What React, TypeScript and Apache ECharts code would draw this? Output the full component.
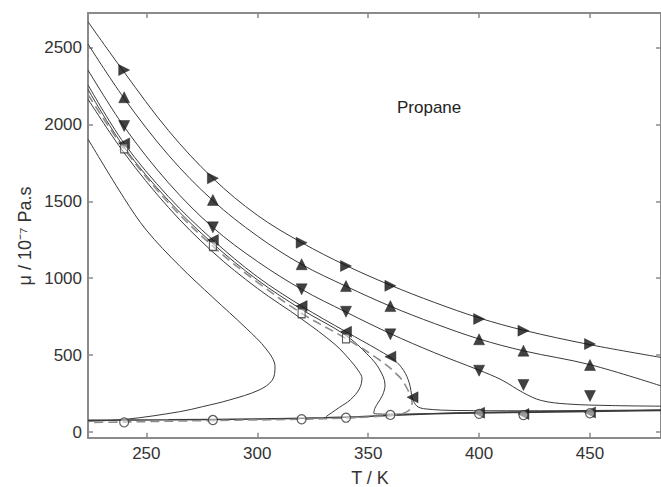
import React, { useEffect, useRef } from "react";
import * as echarts from "echarts";

// ---- marker data (T in K, viscosity in 10^-7 Pa.s) ----
const T_MARK = [240, 280, 320, 340, 360, 400, 420, 450];
const MU_RIGHT = [2354, 1650, 1231, 1080, 951, 735, 659, 572];
const MU_UP = [2177, 1509, 1091, 949, 819, 603, 529, 436];
const MU_DOWN = [1990, 1331, 928, 782, 635, 399, 306, 234];
const T_LEFT = [240, 280, 320, 340, 360, 370, 400, 420, 450];
const MU_LEFT = [1877, 1249, 819, 652, 490, 226, 125, 117, 127];
const T_SATLIQ = [240, 280, 320, 340];
const MU_SATLIQ = [1845, 1210, 772, 609];
const T_SATVAP = [240, 280, 320, 340, 360, 400, 420, 450];
const MU_SATVAP = [63, 78, 83, 93, 111, 118, 110, 122];

// ---- model curves ----
const T_A = [223.7, 240, 260, 280, 300, 320, 340, 360, 380, 400, 420, 450, 482];
const MU_A = [2668, 2340, 1960, 1650, 1410, 1232, 1083, 955, 842, 742, 662, 568, 485];
const T_B = [223.7, 240, 260, 280, 300, 320, 340, 360, 380, 400, 420, 450, 482];
const MU_B = [2523, 2170, 1800, 1505, 1275, 1090, 948, 818, 705, 605, 528, 438, 300];
const T_C = [223.7, 240, 260, 280, 300, 320, 340, 360, 380, 400, 410, 420, 428, 440, 460, 482];
const MU_C = [2354, 1985, 1620, 1330, 1110, 928, 780, 640, 515, 402, 340, 255, 205, 182, 172, 168];
const T_D = [223.7, 240, 260, 280, 300, 320, 340, 355, 362, 366, 368.5, 370, 372, 376, 390, 420, 450, 482];
const MU_D = [2257, 1877, 1530, 1249, 1010, 819, 652, 530, 465, 400, 320, 220, 168, 150, 140, 138, 140, 144];
const T_S3 = [223.7, 240, 260, 280, 300, 320, 340, 350, 355, 357.6, 356.5, 354, 353, 352.5, 360, 400, 450, 482];
const MU_S3 = [2228, 1852, 1505, 1225, 990, 797, 628, 500, 410, 306, 240, 180, 154, 122, 116, 128, 136, 142];
const T_S2 = [223.7, 240, 260, 280, 300, 320, 335, 342, 346, 347.2, 346, 342, 337, 333.6, 331];
const MU_S2 = [2165, 1815, 1460, 1170, 935, 735, 570, 465, 390, 350, 280, 210, 160, 126, 100];
const T_F = [223.7, 240, 250, 265, 280, 295, 304, 308, 306.8, 300.8, 287.4, 275.4, 265, 241, 223.7];
const MU_F = [1905, 1520, 1313, 1080, 875, 675, 540, 425, 338, 273, 208, 165, 132, 83, 70];
const T_SAT = [223.7, 240, 260, 280, 300, 320, 340, 355, 364, 368, 369.8, 369, 366, 360, 340, 320, 280, 240, 223.7];
const MU_SAT = [2195, 1842, 1490, 1208, 975, 772, 608, 470, 360, 270, 190, 150, 122, 108, 91, 83, 75, 65, 62];
const T_GAS = [223.7, 260, 300, 330, 346, 360, 380, 400, 450, 482];
const MU_GAS = [76, 79, 85, 93, 100, 108, 118, 124, 134, 140];

const X_MIN = 223.7;
const X_MAX = 482;
const Y_MIN = -37;
const Y_MAX = 2725;

const zip = (xs: number[], ys: number[]) => xs.map((x, i) => [x, ys[i]]);

const FONT = "'Liberation Sans', Arial, Helvetica, sans-serif";
const AXIS_COLOR = "#8a8a8a";
const LINE_COLOR = "#3a3a3a";

function lineSeries(name: string, xs: number[], ys: number[], extra: any = {}) {
  return {
    name,
    type: "line",
    data: zip(xs, ys),
    showSymbol: false,
    symbol: "none",
    smooth: 0.35,
    lineStyle: { color: LINE_COLOR, width: 1, ...(extra.lineStyle || {}) },
    z: 2,
    silent: true,
  };
}

function markSeries(name: string, xs: number[], ys: number[], symbol: string, rotate: number, size: any, filled = true) {
  return {
    name,
    type: "scatter",
    data: zip(xs, ys),
    symbol,
    symbolRotate: rotate,
    symbolSize: size,
    itemStyle: filled
      ? { color: "#111", borderColor: "#111", borderWidth: 0.5 }
      : { color: "rgba(255,255,255,0.6)", borderColor: "#333", borderWidth: 1.2 },
    z: 5,
    silent: true,
  };
}

export default function App() {
  const ref = useRef<HTMLDivElement>(null);
  useEffect(() => {
    document.body.style.margin = "0";
    if (!ref.current) return;
    const chart = echarts.init(ref.current, undefined, { renderer: "svg" });
    const axisCommon = {
      type: "value",
      splitLine: { show: false },
      axisLine: { show: true, onZero: false, lineStyle: { color: AXIS_COLOR, width: 2 } },
      axisTick: { show: true, inside: true, length: 5, lineStyle: { color: AXIS_COLOR, width: 1.5 } },
    };
    const xFmt = (v: number) => (Math.abs(v % 50) < 1e-6 ? String(v) : "");
    const yFmt = (v: number) => (Math.abs(v % 500) < 1e-6 ? String(v) : "");
    chart.setOption({
      animation: false,
      backgroundColor: "#ffffff",
      grid: { left: 88, top: 13, right: -3, bottom: 49.3 },
      xAxis: [
        {
          ...axisCommon,
          position: "bottom",
          min: X_MIN,
          max: X_MAX,
          axisLabel: { color: "#333", fontSize: 17, fontFamily: FONT, margin: 7, formatter: xFmt, showMinLabel: false, showMaxLabel: false },
        },
        {
          ...axisCommon,
          position: "top",
          min: X_MIN,
          max: X_MAX,
          axisLabel: { show: false },
        },
      ],
      yAxis: [
        {
          ...axisCommon,
          position: "left",
          min: Y_MIN,
          max: Y_MAX,
          axisLabel: { color: "#333", fontSize: 17, fontFamily: FONT, margin: 6, formatter: yFmt, showMinLabel: false, showMaxLabel: false },
        },
        {
          ...axisCommon,
          position: "right",
          min: Y_MIN,
          max: Y_MAX,
          axisLabel: { show: false },
        },
      ],
      graphic: [
        {
          type: "text",
          x: 397,
          y: 107,
          style: { text: "Propane", fontSize: 17, fontFamily: FONT, fill: "#222", verticalAlign: "middle", align: "left" },
        },
        {
          type: "text",
          x: 25,
          y: 236,
          rotation: Math.PI / 2,
          style: { text: "μ / 10⁻⁷ Pa.s", fontSize: 18, fontFamily: FONT, fill: "#333", align: "center", verticalAlign: "middle" },
        },
        {
          type: "text",
          x: 370,
          y: 478,
          style: { text: "T / K", fontSize: 18, fontFamily: FONT, fill: "#333", align: "center", verticalAlign: "middle" },
        },
      ],
      series: [
        lineSeries("A", T_A, MU_A),
        lineSeries("B", T_B, MU_B),
        lineSeries("C", T_C, MU_C),
        lineSeries("D", T_D, MU_D),
        lineSeries("S3", T_S3, MU_S3),
        lineSeries("S2", T_S2, MU_S2),
        lineSeries("F", T_F, MU_F),
        lineSeries("gas", T_GAS, MU_GAS, { lineStyle: { width: 1.5 } }),
        {
          ...lineSeries("sat", T_SAT, MU_SAT),
          lineStyle: { color: "#8c8c8c", width: 1.6, type: [9, 5] },
        },
        markSeries("right", T_MARK, MU_RIGHT, "triangle", -90, 11),
        markSeries("up", T_MARK, MU_UP, "triangle", 0, 11),
        markSeries("down", T_MARK, MU_DOWN, "triangle", 180, 11),
        markSeries("left", T_LEFT, MU_LEFT, "triangle", 90, 11),
        markSeries("satliq", T_SATLIQ, MU_SATLIQ, "rect", 0, [7, 9], false),
        markSeries("satvap", T_SATVAP, MU_SATVAP, "circle", 0, 9, false),
      ],
    });
    return () => chart.dispose();
  }, []);
  return <div ref={ref} style={{ width: 661, height: 487 }} />;
}
